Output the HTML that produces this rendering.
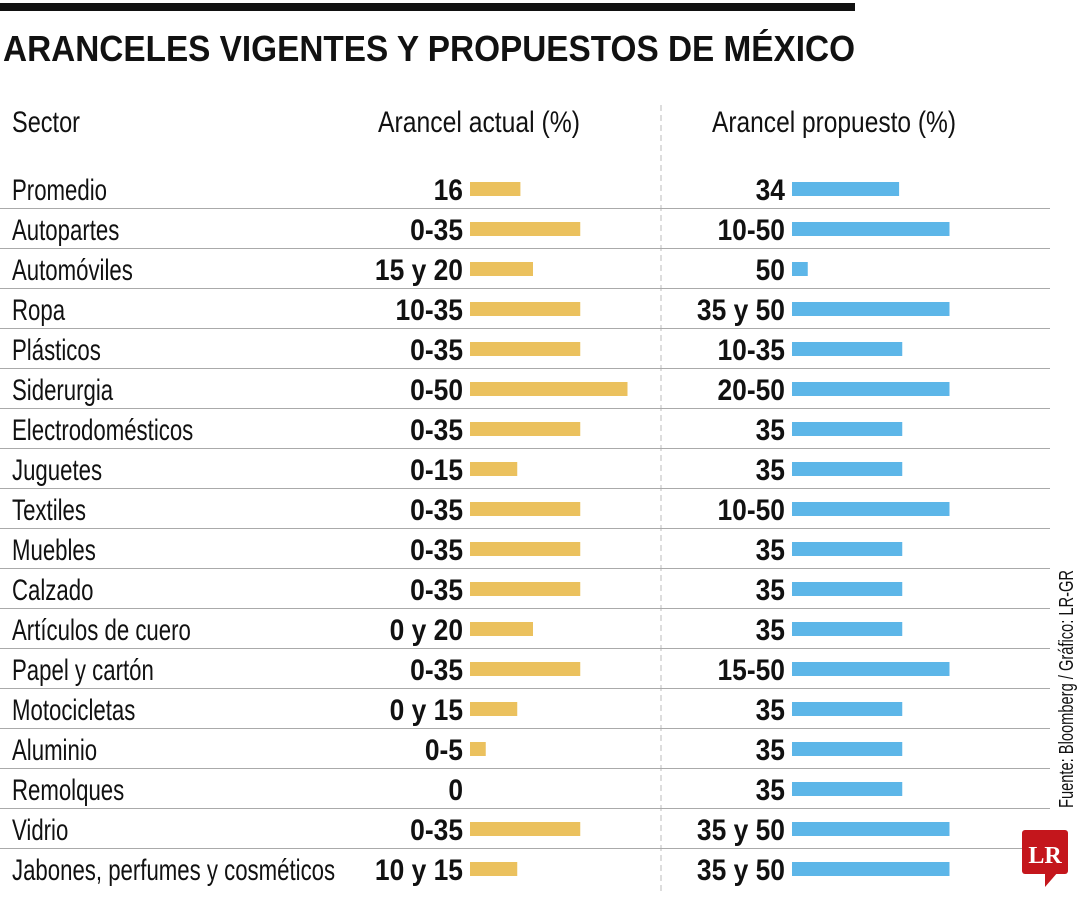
<!DOCTYPE html>
<html><head><meta charset="utf-8"><style>
html,body{margin:0;padding:0;background:#fff;width:1080px;height:900px;overflow:hidden}
svg{display:block;font-family:"Liberation Sans Narrow","Liberation Sans",sans-serif}
</style></head><body>
<svg id="chart" width="1080" height="900" viewBox="0 0 1080 900">
<rect x="0" y="3" width="855" height="8" fill="#111"/>
<text x="3" y="61" font-size="36" font-weight="bold" fill="#111" textLength="852" lengthAdjust="spacingAndGlyphs">ARANCELES VIGENTES Y PROPUESTOS DE MÉXICO</text>
<text x="12" y="132" font-size="30" fill="#111" textLength="68" lengthAdjust="spacingAndGlyphs">Sector</text>
<text x="378" y="132" font-size="30" fill="#111" textLength="202" lengthAdjust="spacingAndGlyphs">Arancel actual (%)</text>
<text x="712" y="132" font-size="30" fill="#111" textLength="244" lengthAdjust="spacingAndGlyphs">Arancel propuesto (%)</text>
<line x1="661" y1="105" x2="661" y2="892" stroke="#bbb" stroke-width="1" stroke-dasharray="6,4"/>
<g id="rows"></g>
<text transform="translate(1073,808) rotate(-90)" font-size="20" fill="#111" textLength="238" lengthAdjust="spacingAndGlyphs">Fuente: Bloomberg / Gráfico: LR-GR</text>
<g>
<rect x="1022" y="830" width="46" height="44" rx="3" fill="#c4161c"/>
<polygon points="1045,872 1058,872 1045,887" fill="#c4161c"/>
<text x="1045" y="863" font-family="Liberation Serif,serif" font-weight="bold" font-size="24" fill="#fff" text-anchor="middle">LR</text>
</g>
</svg>
<script>
const sectors=["Promedio","Autopartes","Automóviles","Ropa","Plásticos","Siderurgia","Electrodomésticos","Juguetes","Textiles","Muebles","Calzado","Artículos de cuero","Papel y cartón","Motocicletas","Aluminio","Remolques","Vidrio","Jabones, perfumes y cosméticos"];
const currentLabels=["16","0-35","15 y 20","10-35","0-35","0-50","0-35","0-15","0-35","0-35","0-35","0 y 20","0-35","0 y 15","0-5","0","0-35","10 y 15"];
const currentValues=[16,35,20,35,35,50,35,15,35,35,35,20,35,15,5,0,35,15];
const proposedLabels=["34","10-50","50","35 y 50","10-35","20-50","35","35","10-50","35","35","35","15-50","35","35","35","35 y 50","35 y 50"];
const proposedValues=[34,50,5,50,35,50,35,35,50,35,35,35,50,35,35,35,50,50];
const NS="http://www.w3.org/2000/svg";
const g=document.getElementById('rows');
const yRow=i=>189+i*40;
const xCur=v=>470+v*3.15;
const xProp=v=>792+v*3.15;
function mk(tag,attrs,txt){const e=document.createElementNS(NS,tag);for(const k in attrs)e.setAttribute(k,attrs[k]);if(txt!=null)e.textContent=txt;g.appendChild(e);return e;}
sectors.forEach((s,i)=>{
  const y=yRow(i);
  if(i>0){const l=mk('line',{x1:0,x2:1050,y1:y-20.5,y2:y-20.5,stroke:'#aaa','stroke-width':1});
    
    }
  const t=mk('text',{x:0,y:0,'font-size':30,fill:'#111',transform:`translate(12,${y+11}) scale(0.74,1)`},s);
  
  
  const cl=mk('text',{x:0,y:0,'font-size':30,'font-weight':'bold','text-anchor':'end',fill:'#111',transform:`translate(463,${y+11}) scale(0.88,1)`},currentLabels[i]);
  
  
  const cb=mk('rect',{x:470,y:y-7,width:Math.max(0,xCur(currentValues[i])-470),height:14,fill:'#ebc15e'});
  
  
  const pl=mk('text',{x:0,y:0,'font-size':30,'font-weight':'bold','text-anchor':'end',fill:'#111',transform:`translate(785,${y+11}) scale(0.88,1)`},proposedLabels[i]);
  
  
  const pb=mk('rect',{x:792,y:y-7,width:Math.max(0,xProp(proposedValues[i])-792),height:14,fill:'#5db6e8'});
  
  
});
</script>
</body></html>
